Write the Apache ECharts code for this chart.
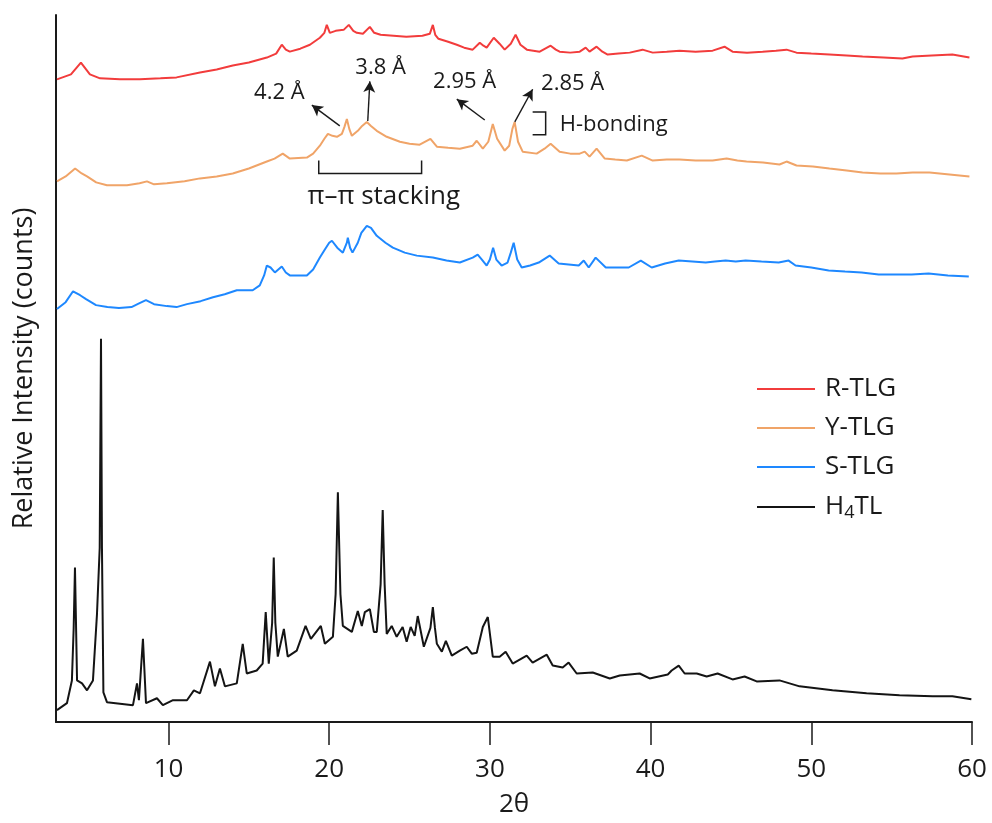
<!DOCTYPE html>
<html>
<head>
<meta charset="utf-8">
<script src="https://cdn.jsdelivr.net/npm/echarts@6/dist/echarts.min.js"></script>
<style>
  html, body { margin: 0; padding: 0; background: #fff; }
  #chart { width: 992px; height: 823px; }
</style>
</head>
<body>
<div id="chart"></div>
<script>
// Powder XRD patterns, stacked with vertical offsets (arbitrary units)
const seriesNames = ['R-TLG', 'Y-TLG', 'S-TLG', 'H4TL'];
const seriesColors = ['#f23c3c', '#f0a468', '#1e88ff', '#141414'];
const xTicks = [10, 20, 30, 40, 50, 60];

const rAngle = [3.06, 3.93, 4.55, 5.11, 5.74, 6.98, 8.22, 9.5, 10.5, 11.96, 13.0, 14.0, 15.0, 16.12, 16.7, 17.05, 17.3, 17.55, 18.2, 18.8, 19.42, 19.7, 19.85, 20.04, 20.4, 20.9, 21.22, 21.5, 21.72, 22.1, 22.53, 22.8, 23.2, 24.0, 24.8, 25.8, 26.26, 26.45, 26.6, 26.8, 27.4, 27.94, 28.4, 28.93, 29.37, 29.6, 29.8, 30.24, 30.6, 30.92, 31.3, 31.6, 31.9, 32.3, 33.1, 33.78, 34.1, 34.34, 35.0, 35.59, 35.96, 36.2, 36.64, 37.0, 37.33, 38.0, 38.7, 39.5, 40.13, 41.0, 41.8, 42.8, 43.86, 44.6, 45.1, 46.0, 46.97, 47.8, 48.46, 49.08, 50.0, 51.13, 52.2, 53.19, 54.5, 55.67, 56.3, 57.5, 58.78, 59.84];
const rCounts = [649, 654, 666, 654, 650, 649, 649, 650, 651, 656, 659, 663, 666, 671, 675, 684, 679, 677, 680, 684, 691, 696, 704, 696, 698, 699, 704, 698, 696, 695, 702, 696, 694, 693, 692, 693, 695, 704, 694, 690, 687, 684, 681, 679, 686, 683, 681, 691, 685, 679, 685, 694, 684, 679, 677, 683, 679, 677, 676, 677, 681, 677, 682, 677, 674, 675, 676, 679, 676, 677, 678, 677, 678, 682, 677, 676, 677, 678, 679, 676, 675, 674, 673, 672, 671, 670, 672, 673, 674, 671];

const yAngle = [3.06, 3.6, 4.19, 4.6, 4.93, 5.5, 6.17, 7.42, 8.2, 8.66, 9.1, 9.9, 11.0, 11.96, 13.0, 14.0, 15.0, 16.12, 16.6, 17.11, 17.55, 18.61, 19.0, 19.42, 19.7, 19.92, 20.2, 20.48, 20.79, 20.95, 21.1, 21.25, 21.41, 21.78, 22.05, 22.34, 22.6, 22.96, 23.58, 24.4, 25.0, 25.63, 26.3, 26.7, 27.4, 28.13, 28.93, 29.18, 29.56, 29.9, 30.18, 30.45, 30.92, 31.2, 31.4, 31.54, 31.75, 32.04, 32.91, 33.4, 33.78, 34.34, 35.0, 35.59, 35.9, 36.2, 36.64, 37.15, 37.8, 38.52, 39.45, 40.13, 41.0, 41.8, 42.8, 43.86, 44.73, 45.4, 45.97, 47.0, 48.02, 48.46, 49.08, 50.1, 51.13, 52.2, 53.19, 54.3, 55.3, 56.3, 57.36, 58.6, 59.84];
const yCounts = [546, 551, 559, 554, 551, 545, 542, 542, 544, 546, 543, 544, 546, 549, 551, 554, 559, 566, 569, 574, 569, 570, 574, 582, 589, 594, 592, 591, 594, 601, 609, 599, 592, 597, 602, 606, 602, 597, 591, 586, 584, 583, 589, 581, 580, 579, 582, 587, 579, 586, 604, 589, 577, 582, 599, 606, 586, 576, 574, 579, 584, 576, 574, 574, 576, 571, 579, 569, 568, 567, 572, 567, 568, 568, 567, 567, 569, 567, 566, 565, 563, 566, 562, 561, 559, 557, 555, 554, 554, 555, 555, 553, 551];

const sAngle = [3.06, 3.6, 4.06, 4.5, 4.87, 5.49, 6.2, 6.92, 7.7, 8.2, 8.6, 9.1, 9.9, 10.5, 11.15, 12.0, 12.77, 13.5, 14.25, 15.24, 15.68, 15.95, 16.12, 16.35, 16.62, 17.05, 17.3, 17.55, 18.61, 19.0, 19.42, 19.72, 20.0, 20.17, 20.5, 20.85, 21.1, 21.16, 21.3, 21.45, 21.78, 22.0, 22.34, 22.6, 22.96, 23.5, 23.96, 24.7, 25.45, 26.45, 27.3, 28.13, 28.93, 29.24, 29.5, 29.8, 30.0, 30.2, 30.4, 30.73, 31.1, 31.3, 31.48, 31.7, 31.98, 32.5, 33.04, 33.72, 34.28, 34.9, 35.53, 35.84, 36.15, 36.58, 37.21, 37.9, 38.64, 39.39, 40.07, 40.9, 41.75, 42.6, 43.43, 44.0, 44.67, 45.3, 45.91, 46.9, 47.97, 48.59, 49.02, 50.0, 51.08, 52.1, 53.13, 54.19, 55.2, 56.24, 57.3, 58.5, 59.8];
const sCounts = [417, 424, 435, 431, 427, 421, 419, 418, 419, 423, 426, 422, 420, 419, 422, 425, 429, 432, 436, 436, 441, 451, 461, 459, 454, 460, 454, 451, 451, 457, 469, 477, 484, 486, 479, 474, 484, 489, 479, 474, 484, 494, 501, 499, 491, 484, 479, 474, 471, 469, 466, 464, 469, 472, 467, 461, 467, 479, 467, 461, 464, 474, 484, 467, 459, 461, 464, 471, 463, 462, 461, 466, 459, 469, 459, 459, 459, 466, 459, 463, 466, 465, 464, 465, 466, 465, 466, 465, 464, 466, 461, 459, 456, 455, 454, 452, 452, 452, 453, 451, 450];

const hAngle = [3.06, 3.68, 3.99, 4.1, 4.18, 4.25, 4.31, 4.62, 4.93, 5.3, 5.55, 5.72, 5.8, 5.86, 5.95, 6.17, 7.79, 8.04, 8.16, 8.41, 8.6, 9.28, 9.65, 10.28, 11.15, 11.58, 11.96, 12.58, 12.89, 13.2, 13.51, 14.25, 14.62, 14.87, 15.49, 15.86, 16.05, 16.24, 16.45, 16.55, 16.65, 16.8, 17.18, 17.42, 17.98, 18.53, 18.86, 18.98, 19.48, 19.73, 20.23, 20.4, 20.54, 20.7, 20.85, 21.41, 21.78, 22.03, 22.22, 22.53, 22.78, 22.96, 23.2, 23.33, 23.45, 23.58, 23.89, 24.2, 24.57, 24.82, 25.07, 25.32, 25.51, 25.89, 26.3, 26.45, 26.58, 26.7, 27.01, 27.26, 27.63, 28.13, 28.56, 28.87, 29.18, 29.56, 29.87, 30.18, 30.61, 30.98, 31.42, 32.29, 32.66, 33.54, 33.91, 34.53, 34.9, 35.4, 36.4, 37.46, 38.08, 39.32, 39.94, 41.07, 41.31, 41.75, 42.12, 42.87, 43.49, 44.17, 45.1, 45.85, 46.6, 48.02, 49.27, 51.32, 53.44, 55.49, 57.55, 58.78, 59.96];
const hCounts = [12, 19, 42, 95, 156, 95, 42, 39, 32, 42, 109, 176, 387, 176, 30, 20, 17, 39, 22, 84, 19, 24, 17, 22, 22, 32, 29, 61, 36, 54, 36, 39, 79, 49, 52, 59, 111, 59, 100, 166, 100, 66, 94, 66, 72, 97, 84, 86, 97, 79, 86, 129, 232, 129, 97, 91, 112, 97, 111, 114, 91, 91, 139, 214, 139, 89, 97, 86, 96, 81, 96, 87, 107, 76, 95, 116, 95, 79, 71, 82, 67, 72, 76, 69, 70, 96, 106, 66, 66, 71, 59, 67, 60, 68, 57, 55, 60, 49, 50, 44, 47, 49, 44, 48, 52, 57, 49, 49, 46, 49, 43, 46, 41, 42, 36, 32, 29, 27, 26, 26, 23];

const angles = [rAngle, yAngle, sAngle, hAngle];
const counts = [rCounts, yCounts, sCounts, hCounts];

const FONT = '"Open Sans", "Noto Sans", sans-serif';
const INK = '#1a1a1a';

const chart = echarts.init(document.getElementById('chart'), null, { renderer: 'canvas' });

const series = seriesNames.map((name, i) => ({
  name: name,
  type: 'line',
  data: angles[i].map((a, k) => [a, counts[i][k]]),
  symbol: 'none',
  showSymbol: false,
  sampling: null,
  lineStyle: { color: seriesColors[i], width: 2 },
  itemStyle: { color: seriesColors[i] },
  z: 2
}));

// d-spacing arrows on the Y-TLG pattern
series[1].markLine = {
  silent: true,
  symbol: ['none', 'arrow'],
  symbolSize: [9, 11],
  lineStyle: { color: INK, width: 1.4, type: 'solid' },
  label: { show: false },
  emphasis: { disabled: true },
  data: [
    [{ coord: [20.66, 602] }, { coord: [18.92, 623] }],
    [{ coord: [22.4, 607] }, { coord: [22.53, 647] }],
    [{ coord: [29.68, 608] }, { coord: [27.94, 629] }],
    [{ coord: [31.55, 606] }, { coord: [32.66, 639] }]
  ]
};

chart.setOption({
  animation: false,
  backgroundColor: '#ffffff',
  grid: { left: 56, right: 20, top: 15, bottom: 94, containLabel: false },
  legend: {
    data: seriesNames,
    orient: 'vertical',
    left: 757,
    top: 375,
    itemWidth: 58,
    itemHeight: 2,
    itemGap: 11,
    icon: 'rect',
    padding: 0,
    selectedMode: false,
    formatter: name => name === 'H4TL' ? 'H{sub|4}TL' : name,
    textStyle: {
      fontFamily: FONT, fontSize: 26, color: INK, lineHeight: 28,
      padding: [0, 0, 0, 5],
      rich: { sub: { fontFamily: FONT, fontSize: 18, color: INK, padding: [12, 0, 0, 0], lineHeight: 28 } }
    }
  },
  xAxis: {
    type: 'value',
    min: 3,
    max: 60,
    name: '2θ',
    nameLocation: 'middle',
    nameGap: 70,
    nameTextStyle: { fontFamily: FONT, fontSize: 26, color: INK },
    axisLine: { show: true, onZero: false, lineStyle: { color: INK, width: 2 } },
    axisTick: { show: true, inside: false, length: 23, customValues: xTicks, lineStyle: { color: INK, width: 1.5 } },
    axisLabel: { margin: 35, fontFamily: FONT, fontSize: 26, color: INK, customValues: xTicks },
    splitLine: { show: false }
  },
  yAxis: {
    type: 'value',
    min: 0,
    max: 714,
    name: 'Relative Intensity (counts)',
    nameLocation: 'middle',
    nameGap: 18,
    nameTextStyle: { fontFamily: FONT, fontSize: 27, color: INK },
    axisLine: { show: true, lineStyle: { color: INK, width: 2 } },
    axisTick: { show: false },
    axisLabel: { show: false },
    splitLine: { show: false }
  },
  series: series
});

// Text labels and brackets placed in data coordinates
const px = (x, y) => chart.convertToPixel({ gridIndex: 0 }, [x, y]);

const notes = [
  { text: '4.2 Å', at: [16.9, 635], size: 22 },
  { text: '3.8 Å', at: [23.2, 661], size: 22 },
  { text: '2.95 Å', at: [28.43, 647], size: 22 },
  { text: '2.85 Å', at: [35.15, 645], size: 22 },
  { text: 'H-bonding', at: [37.7, 603], size: 22 },
  { text: 'π–π stacking', at: [23.4, 531], size: 26 }
];

const graphics = notes.map(n => {
  const p = px(n.at[0], n.at[1]);
  return {
    type: 'text', x: p[0], y: p[1], silent: true,
    style: { text: n.text, fill: INK, font: n.size + 'px ' + FONT, textAlign: 'center', textVerticalAlign: 'middle' }
  };
});

// π–π stacking bracket
const bPi = [[19.35, 567], [19.35, 554], [25.75, 554], [25.75, 567]].map(d => px(d[0], d[1]));
// H-bonding bracket
const bH = [[32.66, 616], [33.47, 616], [33.47, 593], [32.66, 593]].map(d => px(d[0], d[1]));
[bPi, bH].forEach(pts => graphics.push({
  type: 'polyline', silent: true,
  shape: { points: pts },
  style: { stroke: INK, lineWidth: 1.5, fill: null }
}));

chart.setOption({ graphic: graphics });
</script>
</body>
</html>
